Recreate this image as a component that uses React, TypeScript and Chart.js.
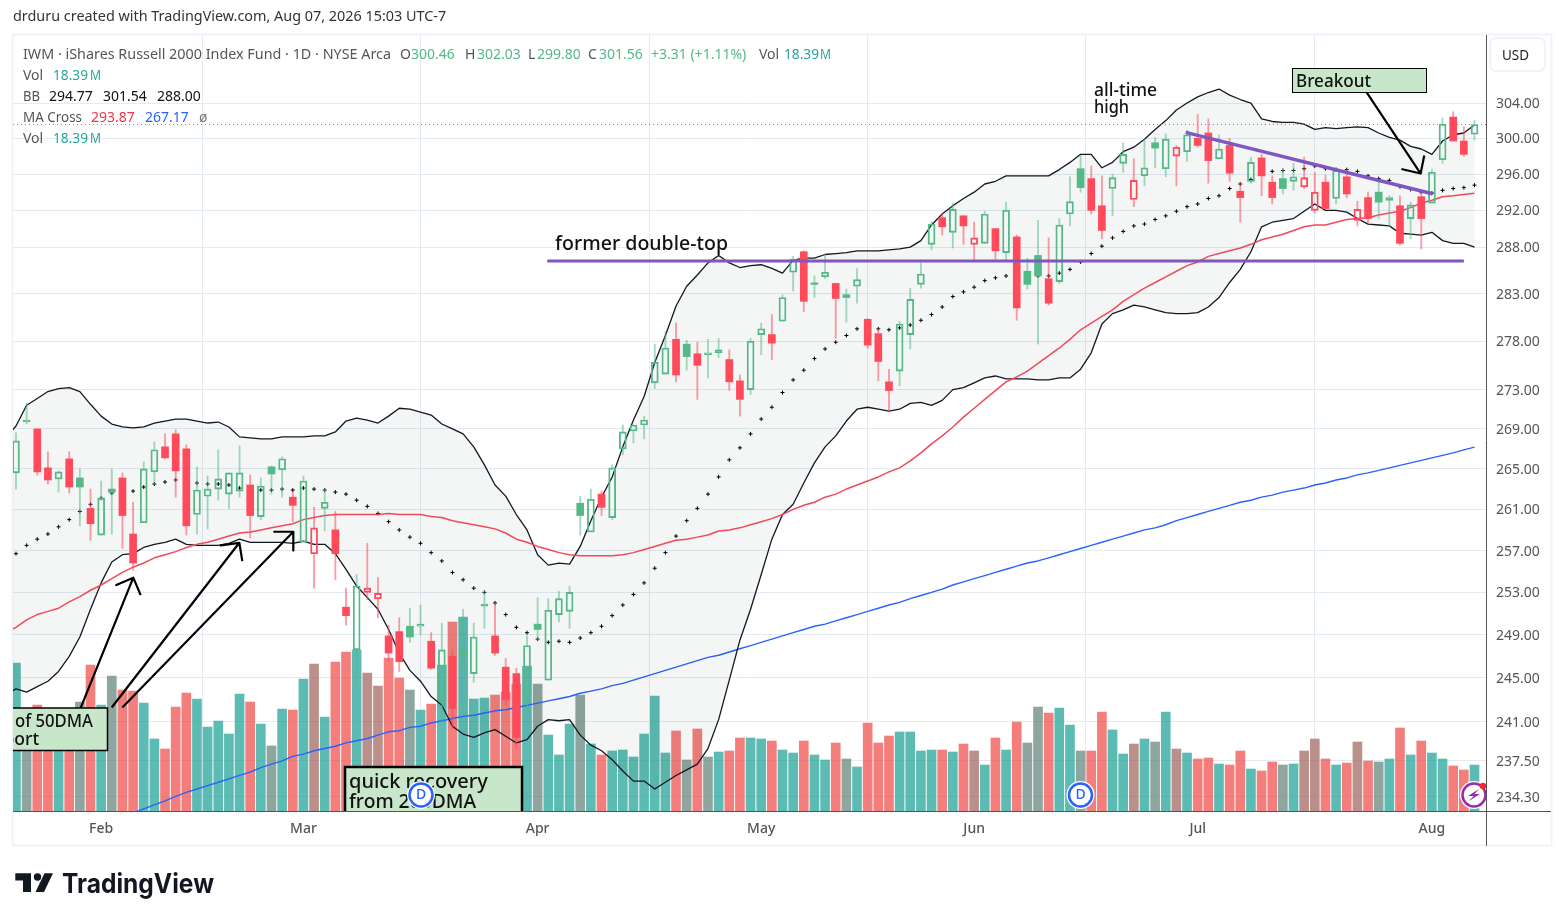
import React, { useEffect, useRef } from "react";
import { Chart, registerables } from "chart.js";

Chart.register(...registerables);

const monthLabels = ["Feb", "Mar", "Apr", "May", "Jun", "Jul", "Aug"];
const monthIndex = [8, 27, 49, 70, 90, 111, 133];
const priceTicks = [234.3, 237.5, 241, 245, 249, 253, 257, 261, 265, 269, 273, 278, 283, 288, 292, 296, 300, 304];

const opens = [264.6,269.7,269,265.1,264,266,264.1,261.1,258.5,263,
264.1,258.6,259.7,264.7,267.2,268.5,267,260.5,262.3,263,
262.5,262.8,263.4,260.3,265.2,264.9,262.2,257.8,256.7,261.1,
259,251.6,247.6,253,252.4,248.9,249.3,249.8,249.8,248.4,
242.9,247,247.4,245.4,251.7,248.9,246,245.4,243,250,
244.8,250.9,251.2,261.6,258.8,262.5,260.2,267,268.8,269.4,
273.7,274.6,278.2,277.7,276.7,276.6,276.8,276.1,273.9,273,
278.7,278.7,280.1,285.3,287.5,284.1,284.8,284.1,282.9,283.8,
280.3,278.8,273.8,274.9,278.7,284,288.3,291.2,289.6,291.4,
288.3,288.4,290,287.4,289.1,285.4,287.1,284.6,284.3,291.6,
296.6,295.5,292.5,294.4,297.2,293.2,295.8,299.5,296.6,298,
298.5,300,300.6,297.7,299.2,294.1,295.2,297.8,295.1,295.5,
295.2,294.6,292,295.1,293.3,295.7,290.9,293.4,294,293.1,
292.5,291.1,293.5,292.8,297.6,302.4,299.7,300.46];

const closes = [267.8,269.9,264.7,263.9,264.7,263.2,263.2,259.6,262.1,262.7,
260.4,255.8,265,266.9,266.1,264.8,259.4,262.9,263,264,
264.6,264.6,260.4,263.3,264.5,266,261.4,263.8,259.2,261.7,
256.7,250.8,253.6,253.4,252.9,247.3,246.5,248.8,250,245.9,
247.6,242.2,247.1,248.8,251.9,247.3,243,239.6,248,249.5,
251.3,252.4,253,260.4,262,261.2,265.1,268.7,269.4,269.9,
275.8,277.3,274.5,276.4,275.5,276.8,277.1,273.8,272,278,
279.3,277.8,282.6,286.7,282.2,284,285.3,282.5,282.6,284.5,
277.6,275.9,272.9,279.8,282.4,285.1,290.5,290.2,292.1,290.3,
289,291.6,287.6,292,281.5,284,284.9,282,290.4,292.95,
294.5,292,289.8,295.6,298.2,295.3,296.7,298.9,299.9,299,
300.4,299.2,297.5,298.8,296.1,293.4,297.3,295.8,293.4,294.4,
295.7,295.6,294,292.2,296.4,293.8,292.1,291.1,292.9,293.4,
288.4,292.6,291.1,296.2,301.6,299.7,298.2,301.56];

const highs = [268.6,271.6,269,266.7,264.8,266.7,265,263,263.8,265,
264.6,261.7,265.7,267.7,268.5,268.9,267.4,265.2,264.3,266.9,
264.6,267.3,264.4,264.1,265.3,266.2,262.7,264.3,261.2,263,
260.8,253.4,254.7,257.7,254.4,249.9,250.6,251.5,251.8,249.2,
250.1,247.5,251.4,250.1,253.1,252,246.8,245.9,248.9,252.5,
252.4,253.1,253.6,262.3,263,262.8,265.4,269.4,269.4,270.3,
277.7,279,279.9,278.1,277.9,278.2,278.3,277.1,274.5,278.3,
279.9,280.8,282.9,287,287.6,284.9,287.3,284.1,283.5,285.7,
280.4,279.3,275.1,280.1,283.6,286.3,290.8,291.7,292.8,291.4,
290.7,291.9,290,292.9,289.3,286.8,290.9,289,291.1,295.7,
298.1,296.9,295.8,296,299.5,297.7,299.9,300.1,300.5,299.2,
300.9,302.7,302.2,300.4,300,295.1,297.9,298.2,295.8,296.5,
297.2,297.9,296.2,295.9,296.7,296.5,293,294,295.1,293.6,
293.6,292.9,294.1,296.5,302.3,303,301.3,302.03];

const lows = [263,269.5,264.4,263.5,262.7,262.6,259.4,258,258.5,258.6,
257.2,255.1,259.7,263.5,266,262.2,258.5,258.6,259.1,261.9,
261.1,262.2,258.2,260,262.5,262.2,259.8,257.8,253.4,258.9,
254.2,249.9,244.4,252.3,250.6,246.6,245.6,248.3,249,245.8,
241.1,240.4,246.1,244.6,249.6,247.1,242.5,238.7,242.3,248.5,
244.8,250.2,249.6,258.5,258.8,260.4,260,266.4,267.6,268,
273.1,274.6,273.8,275,272,274.2,276.3,272.9,270.3,272.5,
276.6,276.1,280.1,283.3,281.1,282.6,284.6,278.3,280,282,
277.3,273.9,270.7,273.4,277.2,283.6,287.7,289.3,287.9,288.3,
286.6,288.4,286.7,286.6,280.2,283.5,277.7,281.8,284.1,290.3,
294,291.6,288.9,291.4,296.2,292.4,294.7,296.7,295.7,294.7,
297.4,299,295,297.7,295.2,290.7,295,293.6,292.7,293.8,
294.2,294.4,291.7,292.2,292.7,293.4,290.3,290.6,291.1,290.2,
288.2,288.9,287.8,292.8,297.2,299.7,298,299.8];

const candleTones = ("ggrrgrgrgg" + "rrggrrrggg" + "ggrgggrgrg" + "rrgrrrrggr" + "grgggrrrgg" +
  "gggggrgggg" + "ggrgrggrrg" + "grggrggrgg" + "rrrggggrgr" + "rgrgrggrgg" +
  "grrggrgggr" + "grrgrrgrrg" + "grrrgrrrgg" + "rgrggrrg").split("");

const volumes = [59.2,40,42.4,38,36,37,43.6,58.4,42.4,54,
48.4,48,43.2,28.8,24.8,41.6,47.2,44.8,33.6,36,
30.8,46.8,43.6,34.8,26,40.8,40.4,52.8,58.8,37.6,
59.6,63.6,64.4,55.2,50,61.2,53.2,48.4,40.4,42.8,
58.4,75.6,77.6,44.8,45.2,46.4,47.6,50.8,58,50.8,
30.4,22.4,34.8,46.4,26.8,22.4,24,24.4,21.6,30.8,
46,23.2,32,20.4,32.8,21.6,23.6,24,29.2,29.2,
28.8,28,24.4,23.2,28,22.4,20.4,27.2,20.8,17.6,
35.2,27.2,30,31.6,31.6,24,24.4,24.4,23.6,26.8,
24,18.4,29.2,24.4,35.6,27.2,41.6,39.2,41.2,34.4,
24,24,39.6,32.4,22.8,26.8,28.8,27.6,39.6,24.8,
23.2,20.8,21.2,18.8,18.4,24,16.8,16,19.6,18.4,
18.8,24,28.8,20.8,18.4,19.2,27.6,20,19.6,20.8,
33.2,22.4,28,23.2,20.8,18,16.4,18.39];

const volumeTones = ("TGRRTRGRTG" + "RRTTRRRTTT" + "TTRTGTRTBT" + "RRTBBRRGTR" + "TRTTTRRRTG" +
  "TTTGTRTTTT" + "TTRGRGTRRT" + "TRTTRTTRGT" + "RRRTTTTRTR" + "BTRTRGGRTT" +
  "GRRTTBTGTB" + "TRRTRRTRRG" + "TBBRTRBRGT" + "RTRTTRRT").split("");

const bbUpper = [269.3,271.4,272.1,272.8,273.1,273.2,272.8,271.5,270.3,269.5,
269.2,269.1,269.2,269.6,269.8,270,270,269.8,269.6,269.7,
269.2,268.2,268.1,268,268,268.2,268.2,268.2,268.3,268.3,
268.7,269.8,270.1,269.9,269.6,270.3,271.1,271,270.7,270.4,
269.5,269,268.5,267.2,265.4,263.4,262.3,260.5,259,256.6,
255.6,255.8,255.7,257.4,259.9,262.2,264.2,267.2,269.9,272.3,
275.8,278.6,281.7,283.8,285,286.3,287.1,286.3,285.8,286,
286.1,285.7,285.2,286.6,286.8,286.8,287.2,287.3,287.4,287.6,
287.6,287.6,287.7,287.8,288,288.7,290.4,291.6,292.5,293.3,
294,294.9,295.2,295.8,295.8,295.8,295.8,295.8,296.5,297.3,
298.2,298.2,296.7,297.3,298.5,299,299.9,301,302,303.2,
304,304.7,305.2,305.6,304.9,304.4,304,302.2,301.9,301.8,
301.8,301.6,301,301.2,301.1,301.2,301.3,301.2,300.6,300.1,
299.8,299.1,298.8,298.2,299.7,300.4,300.6,301.54];

const bbLower = [244,243.7,244.2,244.7,245.6,247,248.8,251.4,253.9,255.9,
256.6,256.7,257.3,257.6,257.8,258.1,257.6,257.5,257.5,257.5,
257.7,258.1,257.8,257.8,257.8,257.8,257.7,257.9,257.6,257.6,
256.7,255.2,253.6,252.5,251.4,249.5,247.3,245.7,244.7,243.3,
242.5,240.6,239.9,239.6,240,240.3,239.7,239.1,239.4,240.6,
241.2,241.1,241.2,239.8,238.9,238.4,237.6,236.6,235.7,235.7,
235,235.6,236.2,236.7,237.2,238.6,241.2,244.8,248.5,251.4,
254.7,258.1,260.5,261.5,263.6,265.6,267.2,268.3,269.8,271,
271.2,271,270.8,271,271.6,271.7,271.4,271.9,273,273.2,
273.7,274.2,274.4,274.1,274.1,274.1,274,274,274.2,274.2,
275.1,276.8,279.8,280.9,281.3,281.8,281.6,281.3,281,280.9,
280.9,281,281.6,282.6,284.2,285.6,287.5,290.2,290.7,290.9,
291.1,291.9,292.7,292,292,291.8,291.1,290.5,290.4,290.3,
289.5,289.4,289.3,289.6,288.7,288.4,288.4,288];

const bbBasis = [256.7,257.5,258.1,258.6,259.3,260,260.8,261.5,262.1,262.6,
262.8,262.8,263.2,263.5,263.7,263.9,263.8,263.6,263.5,263.5,
263.4,263.1,263,262.9,262.9,263,262.9,263.1,263,262.9,
262.7,262.5,261.9,261.3,260.6,259.8,259,258.3,257.7,256.8,
256,254.9,254.2,253.4,253,252,250.9,249.7,249.2,248.6,
248.3,248.4,248.3,248.7,249.2,249.8,250.8,251.8,252.8,253.9,
255.3,256.8,258.4,259.9,261.1,262.5,264.2,265.9,267.1,268.5,
270,271.2,272.7,274,275,276.2,277.2,277.9,278.6,279.3,
279.7,279.3,279.2,279.4,279.7,280.2,280.8,281.6,282.7,283.2,
283.7,284.4,284.7,284.9,284.9,284.9,284.9,284.9,285.2,285.6,
286.4,287.3,288.1,289,289.7,290.3,290.5,291,291.4,291.9,
292.4,292.7,293.3,293.6,294.4,294.9,295.4,296.1,296.3,296.4,
296.4,296.6,296.9,296.6,296.5,296.5,296.3,295.8,295.5,295.3,
294.6,294.3,294,293.9,294.2,294.4,294.5,294.77];

const sma50 = [249.7,250.4,250.9,251.2,251.5,252.1,252.6,253.2,253.7,254.3,
254.9,255.4,255.8,256.3,256.6,256.9,257.3,257.6,257.8,258.1,
258.4,258.7,258.8,259,259.2,259.4,259.6,260,260.2,260.4,
260.5,260.5,260.5,260.5,260.5,260.6,260.5,260.5,260.5,260.3,
260.2,259.9,259.7,259.5,259.3,259.1,258.7,258.1,257.8,257.4,
257.1,256.8,256.6,256.5,256.5,256.5,256.5,256.6,256.8,257.1,
257.4,257.7,258,258.1,258.3,258.5,258.9,259,259.2,259.5,
259.8,260.1,260.5,261,261.4,261.7,262.2,262.5,263,263.4,
263.8,264.2,264.7,265.1,265.8,266.6,267.5,268.3,269.2,270.2,
271.1,272,272.9,273.8,274.3,274.9,275.7,276.5,277.3,278.2,
279.2,279.9,280.6,281.3,282.2,282.9,283.6,284.2,284.8,285.4,
286,286.4,287,287.3,287.6,287.9,288.3,288.8,289.1,289.4,
289.8,290.2,290.4,290.4,290.7,291,291.1,291.2,291.5,291.7,
291.9,292.3,292.8,293.1,293.5,293.6,293.75,293.87];

const sma200 = [null,null,null,null,null,null,null,null,null,null,
null,232.9,233.25,233.6,233.95,234.35,234.7,235,235.3,235.6,
235.9,236.2,236.5,236.9,237.2,237.5,237.9,238.1,238.4,238.6,
238.8,239.1,239.3,239.5,239.8,240.1,240.2,240.5,240.6,240.9,
241.1,241.3,241.5,241.6,241.8,242,242.1,242.3,242.5,242.7,
242.9,243.1,243.3,243.6,243.8,244,244.3,244.5,244.8,245.1,
245.4,245.7,246,246.3,246.6,246.9,247.1,247.4,247.7,248,
248.3,248.6,248.9,249.2,249.5,249.8,250,250.3,250.6,250.9,
251.2,251.5,251.8,252.05,252.4,252.7,253,253.3,253.7,254,
254.3,254.6,254.9,255.2,255.5,255.8,256,256.3,256.6,256.9,
257.2,257.5,257.8,258.1,258.4,258.7,259,259.2,259.5,259.9,
260.2,260.5,260.8,261.1,261.4,261.7,261.9,262.2,262.4,262.7,
262.9,263.1,263.4,263.6,263.9,264.1,264.4,264.6,264.85,265.1,
265.35,265.6,265.85,266.1,266.35,266.6,266.9,267.17];

// Values of the studies one session before the first visible candle.
const priorSession = { upper: 268.0, lower: 243.5, basis: 256.0, sma50: 249.2 };

const lastClose = 301.56;
const doubleTopLine = [[49.9, 286.5], [136.0, 286.5]];
const fallingTrendLine = [[109.87, 300.67], [133.04, 293.83]];
const arrowOne = [[6.01, 242.1], [11.02, 254.4], [9.42, 253.7], [11.02, 254.4], [11.71, 252.74]];
const arrowTwo = [[8.99, 242.3], [20.98, 257.75], [19.23, 257.5], [20.98, 257.75], [21.26, 255.98]];
const arrowThree = [[9.99, 242.3], [26.05, 258.82], [24.26, 258.82], [26.05, 258.82], [26.05, 257]];
const arrowBreakout = [[126.87, 305.22], [131.94, 296.06], [130.22, 296.54], [131.94, 296.06], [132.28, 298.08]];

const GREEN = "#53b987";
const RED = "#ff4a5c";
const GREEN_WICK = "rgba(83,185,135,0.52)";
const RED_WICK = "rgba(255,74,92,0.55)";
const VOL_COLORS: Record<string, string> = {
  T: "rgba(38,166,154,0.75)",
  R: "rgba(239,83,80,0.75)",
  G: "rgba(105,135,127,0.75)",
  B: "rgba(164,107,100,0.75)",
};
const UI = '"Noto Sans", sans-serif';

const toPts = (rows: number[][]) => rows.map(([x, y]) => ({ x, y }));
const series = (values: (number | null)[], prior?: number) => {
  const pts: { x: number; y: number | null }[] = values.map((y, x) => ({ x, y }));
  return prior === undefined ? pts : [{ x: -1, y: prior }, ...pts];
};

function box(ctx: any, x0: number, y0: number, x1: number, y1: number, lw: number) {
  ctx.fillStyle = "#c8e6c9";
  ctx.fillRect(x0, y0, x1 - x0, y1 - y0);
  ctx.strokeStyle = "#000";
  ctx.lineWidth = lw;
  ctx.strokeRect(x0, y0, x1 - x0, y1 - y0);
}

function label(ctx: any, s: string, x: number, y: number, color: string, font: string, maxW?: number) {
  ctx.font = font;
  ctx.fillStyle = color;
  ctx.textAlign = "left";
  ctx.textBaseline = "alphabetic";
  if (maxW) ctx.fillText(s, x, y, maxW);
  else ctx.fillText(s, x, y);
}

const decorations = {
  id: "decorations",
  beforeDraw(chart: any) {
    const { ctx } = chart;
    ctx.save();
    ctx.fillStyle = "#fff";
    ctx.fillRect(0, 0, 1564, 921);
    ctx.strokeStyle = "#f0f3fa";
    ctx.lineWidth = 2;
    ctx.strokeRect(12.5, 34.5, 1539, 811);
    ctx.restore();
  },
  afterDatasetsDraw(chart: any) {
    const { ctx, chartArea: a } = chart;
    ctx.save();
    ctx.beginPath();
    ctx.rect(a.left, a.top, a.right - a.left, a.bottom - a.top);
    ctx.clip();
    const noteFont = `500 17.5px ${UI}`;
    box(ctx, 1, 708, 107.5, 750.5, 1.5);
    label(ctx, "of 50DMA", 15, 727, "#111", noteFont, 78);
    label(ctx, "port", 3.5, 745, "#111", noteFont);
    box(ctx, 345, 767, 522, 830, 2.5);
    label(ctx, "quick recovery", 349, 788, "#111", `500 20px ${UI}`, 140);
    label(ctx, "from 200DMA", 349, 808, "#111", `500 20px ${UI}`, 127);
    box(ctx, 1292.5, 68.5, 1426.5, 92.5, 1);
    label(ctx, "Breakout", 1296, 87, "#111", noteFont, 75);
    label(ctx, "all-time", 1094, 96, "#111", noteFont, 64);
    label(ctx, "high", 1094, 113, "#111", noteFont, 35);
    label(ctx, "former double-top", 555, 250, "#111", `500 19.6px ${UI}`, 173);

    for (const cx of [421, 1080.5]) {
      ctx.fillStyle = "#fff";
      ctx.beginPath();
      ctx.arc(cx, 795, 14, 0, Math.PI * 2);
      ctx.fill();
      ctx.strokeStyle = "#2962ff";
      ctx.lineWidth = 2.5;
      ctx.beginPath();
      ctx.arc(cx, 795, 11.5, 0, Math.PI * 2);
      ctx.stroke();
      ctx.fillStyle = "#2962ff";
      ctx.font = `500 14px ${UI}`;
      ctx.textAlign = "center";
      ctx.textBaseline = "middle";
      ctx.fillText("D", cx, 795);
    }
    ctx.fillStyle = "#fff";
    ctx.beginPath();
    ctx.arc(1474, 795, 14, 0, Math.PI * 2);
    ctx.fill();
    ctx.strokeStyle = "#9c27b0";
    ctx.lineWidth = 2.5;
    ctx.beginPath();
    ctx.arc(1474, 795, 11.5, 0, Math.PI * 2);
    ctx.stroke();
    ctx.fillStyle = "#9c27b0";
    ctx.beginPath();
    ctx.moveTo(1479, 789);
    ctx.lineTo(1468, 796);
    ctx.lineTo(1473.5, 796);
    ctx.lineTo(1469, 801);
    ctx.lineTo(1480, 794);
    ctx.lineTo(1474.5, 794);
    ctx.closePath();
    ctx.fill();
    ctx.fillStyle = "#f7252f";
    ctx.beginPath();
    ctx.arc(1483, 786, 3.2, 0, Math.PI * 2);
    ctx.fill();
    ctx.restore();
  },
  afterDraw(chart: any) {
    const { ctx } = chart;
    ctx.save();
    ctx.strokeStyle = "#555";
    ctx.lineWidth = 1;
    ctx.beginPath();
    ctx.moveTo(13, 811.5);
    ctx.lineTo(1551, 811.5);
    ctx.moveTo(1486.5, 35);
    ctx.lineTo(1486.5, 846);
    ctx.stroke();

    ctx.strokeStyle = "#f0f3fa";
    ctx.lineWidth = 2;
    ctx.beginPath();
    ctx.roundRect(1490, 38, 55, 33, 6);
    ctx.stroke();
    label(ctx, "USD", 1502, 60, "#222", `14px ${UI}`, 27);

    label(ctx, "drduru created with TradingView.com, Aug 07, 2026 15:03 UTC-7", 13, 21, "#333", `14.4px ${UI}`, 434);

    const f = `14px ${UI}`;
    const gray = "#555";
    const g = "#53b987";
    const teal = "#26a69a";
    label(ctx, "IWM · iShares Russell 2000 Index Fund · 1D · NYSE Arca", 23, 59, gray, `14.4px ${UI}`, 368);
    label(ctx, "O", 400, 59, gray, f);
    label(ctx, "300.46", 411, 59, g, f, 44);
    label(ctx, "H", 465, 59, gray, f);
    label(ctx, "302.03", 477, 59, g, f, 44);
    label(ctx, "L", 528, 59, gray, f);
    label(ctx, "299.80", 537, 59, g, f, 44);
    label(ctx, "C", 588, 59, gray, f);
    label(ctx, "301.56", 599, 59, g, f, 44);
    label(ctx, "+3.31 (+1.11%)", 651, 59, g, f, 99);
    label(ctx, "Vol", 759, 59, gray, f, 21);
    label(ctx, "18.39", 784, 59, teal, f, 35);
    label(ctx, "M", 820, 59, teal, f, 11);

    label(ctx, "Vol", 23, 80, gray, f, 21);
    label(ctx, "18.39", 53, 80, teal, f, 35);
    label(ctx, "M", 90, 80, teal, f, 11);
    label(ctx, "BB", 23, 101, gray, f, 17);
    label(ctx, "294.77", 49, 101, "#111", f, 44);
    label(ctx, "301.54", 103, 101, "#111", f, 44);
    label(ctx, "288.00", 157, 101, "#111", f, 44);
    label(ctx, "MA Cross", 23, 122, gray, f, 59);
    label(ctx, "293.87", 91, 122, "#f23645", f, 44);
    label(ctx, "267.17", 145, 122, "#2962ff", f, 44);
    label(ctx, "ø", 199, 122, "#777", f);
    label(ctx, "Vol", 23, 143, gray, f, 21);
    label(ctx, "18.39", 53, 143, teal, f, 35);
    label(ctx, "M", 90, 143, teal, f, 11);

    ctx.fillStyle = "#131722";
    ctx.beginPath();
    ctx.moveTo(15.3, 873.3);
    ctx.lineTo(31, 873.3);
    ctx.lineTo(31, 892);
    ctx.lineTo(23, 892);
    ctx.lineTo(23, 880.5);
    ctx.lineTo(15.3, 880.5);
    ctx.closePath();
    ctx.fill();
    ctx.beginPath();
    ctx.arc(37.5, 877, 3.7, 0, Math.PI * 2);
    ctx.fill();
    ctx.beginPath();
    ctx.moveTo(44.5, 873.3);
    ctx.lineTo(53, 873.3);
    ctx.lineTo(44, 892);
    ctx.lineTo(35.5, 892);
    ctx.closePath();
    ctx.fill();
    label(ctx, "TradingView", 62, 893, "#131722", `700 27px Inter, ${UI}`, 152);
    ctx.restore();
  },
};

export default function App() {
  const ref = useRef<HTMLCanvasElement>(null);
  useEffect(() => {
    if (!ref.current) return;
    const idx = opens.map((_, i) => i);
    const bodies = idx.map((i) => ({ x: i, y: [opens[i], closes[i]] }));
    const upperWicks = idx.map((i) => ({ x: i, y: [Math.max(opens[i], closes[i]), highs[i]] }));
    const lowerWicks = idx.map((i) => ({ x: i, y: [lows[i], Math.min(opens[i], closes[i])] }));
    const tone = candleTones.map((t) => (t === "g" ? GREEN : RED));
    const wickTone = candleTones.map((t) => (t === "g" ? GREEN_WICK : RED_WICK));
    const bodyFill = idx.map((i) => (closes[i] > opens[i] ? "rgba(0,0,0,0)" : tone[i]));
    const bodyBorder = idx.map((i) => (closes[i] > opens[i] ? 1.2 : 0));
    const lineBase = { type: "line", pointRadius: 0, tension: 0, fill: false, borderJoinStyle: "round" };
    const bb = { ...lineBase, borderColor: "#131722", borderWidth: 1.3 };
    const xMin = -0.28;
    const xMax = 138.08;

    const chart = new Chart(ref.current, {
      type: "bar",
      data: {
        datasets: [
          {
            type: "bar", label: "Vol", data: idx.map((i) => ({ x: i, y: volumes[i] })), yAxisID: "vol",
            backgroundColor: volumeTones.map((t) => VOL_COLORS[t]), barThickness: 9, grouped: false, order: 20,
          },
          { ...lineBase, label: "MA200", data: series(sma200), borderColor: "#2962ff", borderWidth: 1.4, yAxisID: "y", order: 18 },
          {
            ...bb, label: "BB upper", data: series(bbUpper, priorSession.upper), yAxisID: "y", order: 16,
            fill: { target: 3 }, backgroundColor: "rgba(30,60,60,0.05)",
          },
          { ...bb, label: "BB lower", data: series(bbLower, priorSession.lower), yAxisID: "y", order: 15 },
          {
            ...lineBase, label: "BB basis", data: series(bbBasis, priorSession.basis), yAxisID: "y", showLine: false, order: 14,
            pointRadius: 2, pointStyle: "cross", pointBorderColor: "#000", pointBorderWidth: 1, borderColor: "#000",
          },
          { ...lineBase, label: "MA50", data: series(sma50, priorSession.sma50), borderColor: "#f2495a", borderWidth: 1.5, yAxisID: "y", order: 13 },
          { ...lineBase, label: "Last", data: toPts([[xMin, lastClose], [xMax, lastClose]]), borderColor: "#53a08c", borderWidth: 1, borderDash: [1, 3], yAxisID: "y", order: 12.5 },
          { type: "bar", label: "Upper wick", data: upperWicks, yAxisID: "y", backgroundColor: wickTone, barThickness: 1.2, grouped: false, order: 12 },
          { type: "bar", label: "Lower wick", data: lowerWicks, yAxisID: "y", backgroundColor: wickTone, barThickness: 1.2, grouped: false, order: 12 },
          {
            type: "bar", label: "Candles", data: bodies, yAxisID: "y", backgroundColor: bodyFill, borderColor: tone,
            borderWidth: bodyBorder, borderSkipped: false, barThickness: 7, grouped: false, minBarLength: 1.5, order: 11,
          },
          { ...lineBase, label: "Double top", data: toPts(doubleTopLine), borderColor: "#7e57c2", borderWidth: 3, yAxisID: "y", order: 5 },
          { ...lineBase, label: "Trend", data: toPts(fallingTrendLine), borderColor: "#7e57c2", borderWidth: 3.5, yAxisID: "y", order: 5 },
          { ...lineBase, label: "Arrow 1", data: toPts(arrowOne), borderColor: "#000", borderWidth: 2.2, yAxisID: "y", order: 4 },
          { ...lineBase, label: "Arrow 2", data: toPts(arrowTwo), borderColor: "#000", borderWidth: 2.2, yAxisID: "y", order: 4 },
          { ...lineBase, label: "Arrow 3", data: toPts(arrowThree), borderColor: "#000", borderWidth: 2.2, yAxisID: "y", order: 4 },
          { ...lineBase, label: "Arrow 4", data: toPts(arrowBreakout), borderColor: "#000", borderWidth: 2.2, yAxisID: "y", order: 4 },
        ] as any,
      },
      options: {
        animation: false,
        responsive: false,
        devicePixelRatio: 1,
        layout: { padding: { left: 13, top: 35, right: 13, bottom: 75 } },
        plugins: { legend: { display: false }, tooltip: { enabled: false } },
        events: [],
        scales: {
          x: {
            type: "linear",
            min: xMin,
            max: xMax,
            offset: false,
            afterBuildTicks: (ax: any) => {
              ax.ticks = monthIndex.map((value) => ({ value }));
            },
            afterFit: (ax: any) => {
              ax.height = 35;
            },
            grid: { color: "#e3eaf2", lineWidth: 1, drawTicks: false },
            border: { display: false },
            ticks: {
              autoSkip: false,
              maxRotation: 0,
              padding: 10,
              color: "#555",
              font: { family: UI, size: 14, weight: "500" },
              callback: (v: any) => monthLabels[monthIndex.indexOf(v)] ?? "",
            },
          },
          y: {
            type: "logarithmic",
            position: "right",
            min: 233.07,
            max: 311.86,
            afterBuildTicks: (ax: any) => {
              ax.ticks = priceTicks.map((value) => ({ value }));
            },
            afterFit: (ax: any) => {
              ax.width = 65;
            },
            grid: { color: "#e3eaf2", lineWidth: 1, drawTicks: false },
            border: { display: false },
            ticks: {
              autoSkip: false,
              padding: 10,
              labelOffset: 1,
              color: "#555",
              font: { family: UI, size: 14 },
              callback: (v: any) => Number(v).toFixed(2),
            },
          },
          vol: { type: "linear", display: false, min: 0, max: 310.4 },
        },
      } as any,
      plugins: [decorations],
    } as any);
    return () => chart.destroy();
  }, []);
  return (
    <div style={{ position: "absolute", left: 0, top: 0, width: 1564, height: 921, background: "#fff" }}>
      <canvas ref={ref} width={1564} height={921} style={{ display: "block", width: 1564, height: 921 }} />
    </div>
  );
}
